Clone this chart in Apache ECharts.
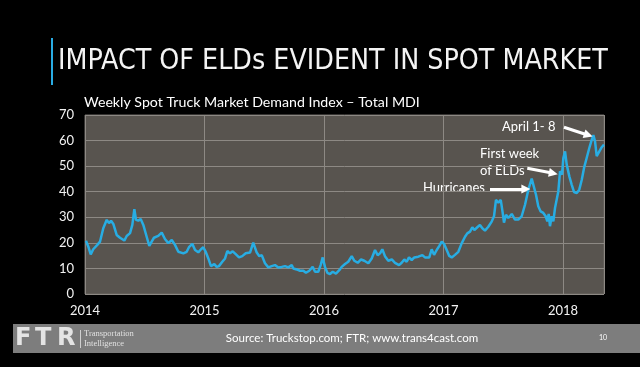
<!DOCTYPE html>
<html><head><meta charset="utf-8">
<script src="https://cdn.jsdelivr.net/npm/echarts@6/dist/echarts.min.js"></script>
<style>html,body{margin:0;padding:0;background:#000;}#c{width:640px;height:367px;}</style>
</head><body><div id="c"></div>
<script>
// Weekly Spot Truck Market Demand Index (decimal year, value)
const dates = [
2014.008,2014.028,2014.048,2014.069,2014.103,2014.126,2014.153,2014.182,2014.201,2014.218,
2014.237,2014.265,2014.293,2014.329,2014.349,2014.377,2014.396,2014.413,2014.427,2014.446,
2014.466,2014.488,2014.516,2014.538,2014.558,2014.577,2014.613,2014.642,2014.669,2014.697,
2014.726,2014.753,2014.781,2014.823,2014.851,2014.870,2014.898,2014.921,2014.948,2014.971,
2014.990,2015.010,2015.032,2015.054,2015.082,2015.102,2015.121,2015.149,2015.172,2015.191,
2015.213,2015.236,2015.261,2015.289,2015.316,2015.345,2015.381,2015.408,2015.437,2015.459,
2015.479,2015.506,2015.534,2015.562,2015.590,2015.618,2015.646,2015.674,2015.701,2015.730,
2015.743,2015.772,2015.799,2015.827,2015.849,2015.877,2015.905,2015.925,2015.952,2015.972,
2015.989,2016.008,2016.028,2016.050,2016.073,2016.100,2016.128,2016.148,2016.176,2016.203,
2016.232,2016.254,2016.282,2016.310,2016.337,2016.371,2016.399,2016.427,2016.449,2016.469,
2016.488,2016.510,2016.538,2016.567,2016.594,2016.628,2016.650,2016.672,2016.692,2016.711,
2016.734,2016.756,2016.789,2016.823,2016.845,2016.859,2016.881,2016.901,2016.921,2016.943,
2016.965,2016.985,2017.004,2017.027,2017.048,2017.069,2017.096,2017.124,2017.152,2017.180,
2017.199,2017.222,2017.241,2017.258,2017.283,2017.305,2017.325,2017.347,2017.375,2017.403,
2017.423,2017.439,2017.459,2017.479,2017.495,2017.506,2017.523,2017.542,2017.571,2017.598,
2017.626,2017.654,2017.682,2017.710,2017.738,2017.752,2017.774,2017.793,2017.813,2017.835,
2017.855,2017.869,2017.880,2017.891,2017.905,2017.919,2017.933,2017.947,2017.961,2017.975,
2017.992,2018.003,2018.017,2018.031,2018.053,2018.073,2018.092,2018.115,2018.136,2018.157,
2018.176,2018.198,2018.220,2018.240,2018.254,2018.268,2018.282,2018.304,2018.324,2018.343
];
const mdi = [
20.8,18.5,15.5,17.5,19.2,20.5,25.7,29.0,27.7,28.6,
27.4,23.1,22.0,20.9,22.7,23.8,27.0,33.2,29.0,28.7,
29.3,27.0,22.4,18.8,20.5,22.0,22.7,24.0,21.5,19.9,
21.1,19.2,16.5,15.9,16.5,18.3,19.6,17.2,16.3,17.5,
18.3,16.5,13.9,10.9,11.7,10.6,10.9,12.6,13.9,16.8,
15.9,16.7,15.6,14.3,14.8,15.9,16.2,20.1,16.2,14.8,
15.2,12.0,10.4,10.9,11.3,10.4,10.6,10.9,10.4,11.3,
10.0,9.6,9.1,9.1,8.3,9.1,10.6,8.7,8.7,11.3,
14.3,10.6,8.3,7.8,8.7,8.0,9.3,10.6,11.7,12.6,
14.8,13.0,12.2,13.5,13.0,12.0,13.9,17.2,15.2,15.9,
17.5,14.8,13.0,13.5,12.2,11.3,12.2,13.5,12.6,14.3,
13.3,14.3,14.6,15.2,14.3,14.9,14.3,17.5,15.3,17.2,
18.8,20.5,19.6,17.2,14.9,14.3,15.3,16.5,19.8,22.4,
23.7,24.4,26.1,25.0,26.1,27.0,25.7,24.8,26.3,28.3,
30.5,36.8,35.7,36.8,31.8,27.9,31.0,29.7,31.3,29.1,
29.1,30.4,34.9,40.8,45.1,44.7,38.8,34.3,32.3,31.7,
30.4,28.4,31.3,26.5,30.4,28.4,33.6,33.9,40.2,48.0,
46.7,53.2,55.8,50.6,46.0,42.7,39.9,39.5,40.8,44.7,
49.3,53.2,57.1,60.3,62.1,59.7,53.9,55.8,57.4,58.4
];
const yearTicks = [2014, 2015, 2016, 2017, 2018];
const title = 'IMPACT OF ELDs EVIDENT IN SPOT MARKET';
const subtitle = 'Weekly Spot Truck Market Demand Index \u2013 Total MDI';
const source = 'Source: Truckstop.com; FTR; www.trans4cast.com';
// annotation arrows: [from, to] in data units
const arrows = [
  [[2017.389, 41.1], [2017.689, 41.1]],
  [[2017.701, 49.2], [2017.919, 47.2]],
  [[2018.008, 65.2], [2018.212, 62.1]]
];

function fitFont(text, family, weight, targetW) {
  const c = document.createElement('canvas').getContext('2d');
  c.font = weight + ' 100px ' + family;
  return 100 * targetW / c.measureText(text).width;
}
const titleFamily = '"Liberation Sans Narrow","DejaVu Sans Condensed","Lato",sans-serif';
const titleSize = Math.min(34, fitFont(title, titleFamily, 'normal', 549));

const chart = echarts.init(document.getElementById('c'), null, {renderer: 'canvas'});
const F = 'Lato, "Open Sans", sans-serif';
chart.setOption({
  backgroundColor: '#000',
  animation: false,
  grid: {left: 85, right: 36, top: 115, bottom: 73, show: true,
         backgroundColor: '#58544f', borderColor: '#6c6964', borderWidth: 1},
  xAxis: {type: 'value', min: yearTicks[0], max: 2018.343, interval: 1,
    axisLine: {show: false}, axisTick: {show: false},
    splitLine: {show: true, lineStyle: {color: '#8d8984', width: 1}},
    axisLabel: {color: '#f2f2f2', fontSize: 13, fontFamily: F, margin: 10, showMaxLabel: false,
      formatter: v => yearTicks.includes(v) ? String(v) : ''}},
  yAxis: {type: 'value', min: 0, max: 70, interval: 10,
    axisLine: {show: false}, axisTick: {show: false},
    splitLine: {show: true, lineStyle: {color: '#8d8984', width: 1}},
    axisLabel: {color: '#f2f2f2', fontSize: 13, fontFamily: F, margin: 11}},
  series: [{
    type: 'line', data: dates.map((d, i) => [d, mdi[i]]), showSymbol: false,
    lineStyle: {color: '#28ade3', width: 2.5}, itemStyle: {color: '#28ade3'},
    markLine: {silent: true, symbol: ['none', 'triangle'], symbolSize: [9, 9], animation: false,
      lineStyle: {color: '#ffffff', width: 3, type: 'solid'}, label: {show: false},
      data: arrows.map(a => [{coord: a[0]}, {coord: a[1]}])}
  }],
  graphic: [
    {type: 'rect', shape: {x: 51, y: 38, width: 2, height: 47}, style: {fill: '#29abe2'}},
    {type: 'text', x: 58, y: 48,
      style: {text: title, fill: '#f4f4f4', font: 'normal ' + titleSize.toFixed(1) + 'px ' + titleFamily, verticalAlign: 'top'}},
    {type: 'text', left: 84, top: 95,
      style: {text: subtitle, fill: '#ffffff', font: 'normal 14.2px ' + F}},
    {type: 'text', x: 485, y: 188, style: {text: 'Hurricanes', fill: '#fff', font: '13px ' + F, align: 'right', verticalAlign: 'middle'}},
    {type: 'text', x: 480, y: 154, style: {text: 'First week', fill: '#fff', font: '13px ' + F, align: 'left', verticalAlign: 'middle'}},
    {type: 'text', x: 480, y: 171, style: {text: 'of ELDs', fill: '#fff', font: '13px ' + F, align: 'left', verticalAlign: 'middle'}},
    {type: 'text', x: 502, y: 127, style: {text: 'April 1- 8', fill: '#fff', font: '13px ' + F, align: 'left', verticalAlign: 'middle'}},
    {type: 'rect', shape: {x: 13, y: 324, width: 627, height: 29}, style: {fill: '#7d7d7d'}},
    {type: 'text', x: 15, y: 339, style: {text: 'F', fill: '#e4e4e4', font: 'bold 24px "DejaVu Sans"', verticalAlign: 'middle'}},
    {type: 'text', x: 35, y: 339, style: {text: 'T', fill: '#e4e4e4', font: 'bold 24px "DejaVu Sans"', verticalAlign: 'middle'}},
    {type: 'text', x: 57, y: 339, style: {text: 'R', fill: '#e4e4e4', font: 'bold 24px "DejaVu Sans"', verticalAlign: 'middle'}},
    {type: 'rect', shape: {x: 80, y: 330, width: 1, height: 18}, style: {fill: '#d0d0d0'}},
    {type: 'text', x: 84, y: 334, style: {text: 'Transportation', fill: '#e0e0e0', font: '8.5px "Liberation Serif"', verticalAlign: 'middle'}},
    {type: 'text', x: 84, y: 344, style: {text: 'Intelligence', fill: '#e0e0e0', font: '8.5px "Liberation Serif"', verticalAlign: 'middle'}},
    {type: 'text', x: 352, y: 338, style: {text: source, fill: '#ffffff', font: '11.5px ' + F, align: 'center', verticalAlign: 'middle'}},
    {type: 'text', x: 603, y: 338, style: {text: '10', fill: '#ffffff', font: '7px ' + F, align: 'center', verticalAlign: 'middle'}}
  ]
});
</script></body></html>
